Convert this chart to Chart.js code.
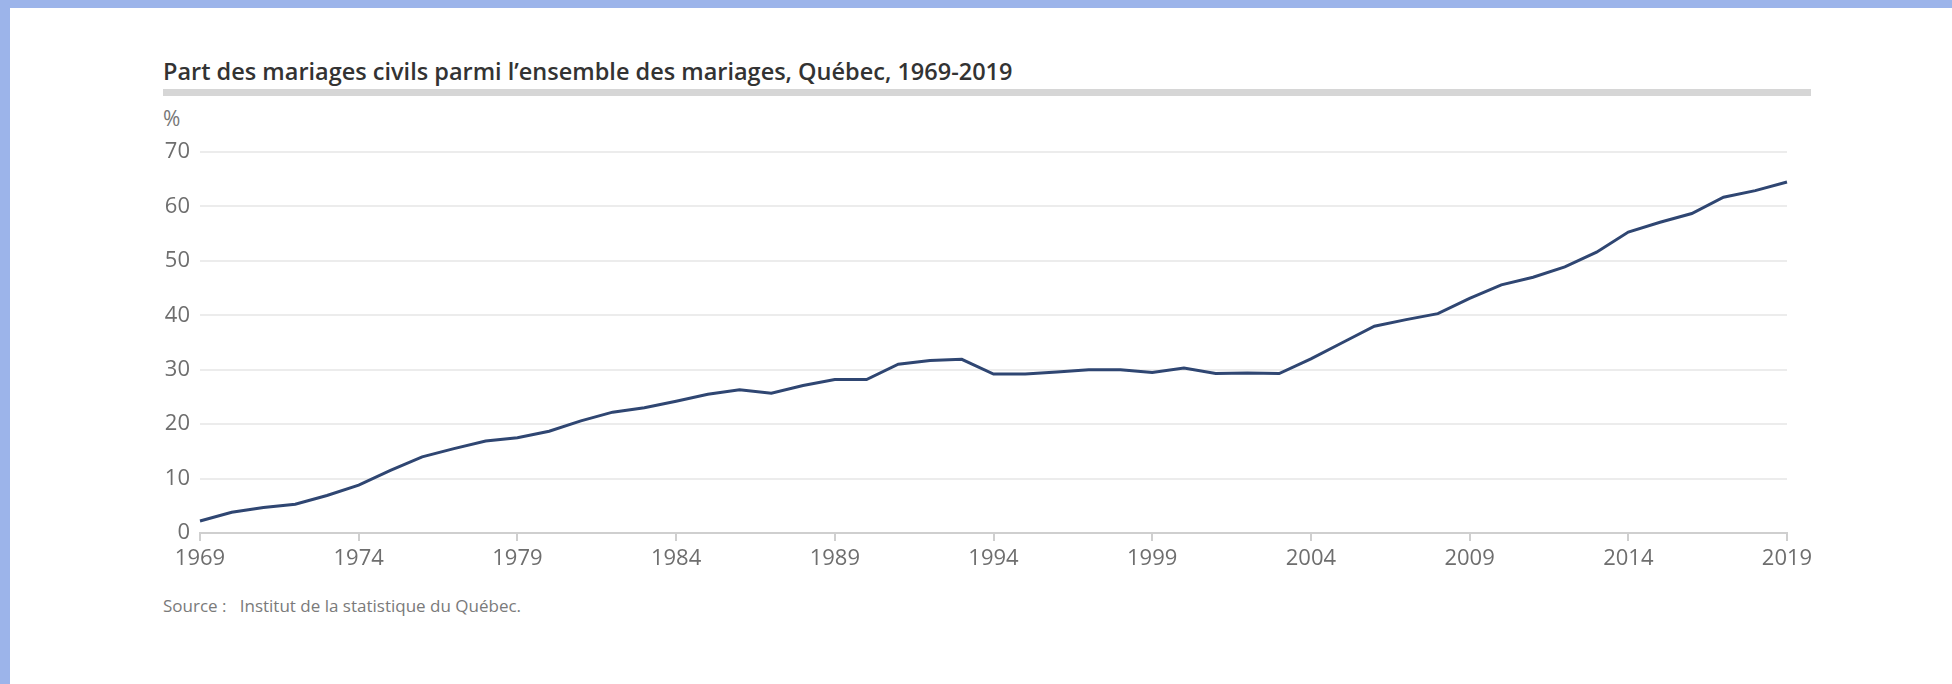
<!DOCTYPE html>
<html lang="fr">
<head>
<meta charset="utf-8">
<title>Part des mariages civils, Québec, 1969-2019</title>
<script src="https://cdn.jsdelivr.net/npm/chart.js@4/dist/chart.umd.min.js"></script>
<style>
  html, body { margin: 0; padding: 0; }
  body {
    width: 1952px; height: 684px; overflow: hidden;
    background: #9cb4ea; position: relative;
    font-family: "Open Sans", "Noto Sans", sans-serif;
  }
  #panel {
    position: absolute; left: 10px; top: 8px; right: 0; bottom: 0;
    background: #fff;
  }
  #title {
    position: absolute; left: 163px; top: 55px;
    font-size: 23.5px; font-weight: 600; color: #333; white-space: nowrap;
  }
  #rule {
    position: absolute; left: 163px; top: 89px; width: 1648px; height: 7px;
    background: #d6d6d6;
  }
  #unit {
    position: absolute; left: 163px; top: 104px;
    font-size: 21px; color: #777;
  }
  #source {
    position: absolute; left: 163px; top: 594px;
    font-size: 17px; color: #7a7a7a; white-space: pre;
  }
  #chart { position: absolute; left: 0; top: 0; }
</style>
</head>
<body>
<div id="panel"></div>
<div id="title">Part des mariages civils parmi l’ensemble des mariages, Québec, 1969-2019</div>
<div id="rule"></div>
<div id="unit">%</div>
<div id="source">Source :   Institut de la statistique du Québec.</div>
<canvas id="chart" width="1952" height="684"></canvas>
<script>
// years on the x axis
const years = [
  1969, 1970, 1971, 1972, 1973, 1974, 1975, 1976, 1977, 1978,
  1979, 1980, 1981, 1982, 1983, 1984, 1985, 1986, 1987, 1988,
  1989, 1990, 1991, 1992, 1993, 1994, 1995, 1996, 1997, 1998,
  1999, 2000, 2001, 2002, 2003, 2004, 2005, 2006, 2007, 2008,
  2009, 2010, 2011, 2012, 2013, 2014, 2015, 2016, 2017, 2018, 2019
];

// share of civil marriages (%)
const civilShare = [
  2.2, 3.8, 4.7, 5.3, 6.9, 8.8, 11.5, 14.0, 15.5, 16.9,
  17.5, 18.7, 20.6, 22.2, 23.0, 24.2, 25.5, 26.3, 25.7, 27.1,
  28.2, 28.2, 31.0, 31.7, 31.9, 29.2, 29.2, 29.6, 30.0, 30.0,
  29.5, 30.3, 29.3, 29.4, 29.3, 32.0, 35.0, 38.0, 39.2, 40.3,
  43.1, 45.6, 47.0, 48.9, 51.6, 55.3, 57.1, 58.7, 61.7, 62.9, 64.5
];

// labelled years, every five
const labelYears = [1969, 1974, 1979, 1984, 1989, 1994, 1999, 2004, 2009, 2014, 2019];

const tickFont = { family: '"Open Sans", "Noto Sans", sans-serif', size: 22 };

new Chart(document.getElementById('chart'), {
  type: 'line',
  data: {
    labels: years,
    datasets: [{
      label: 'Mariages civils',
      data: civilShare,
      borderColor: '#2f4672',
      borderWidth: 3,
      pointRadius: 0,
      tension: 0,
      fill: false
    }]
  },
  options: {
    responsive: false,
    animation: false,
    layout: { padding: { left: 0, right: 165, top: 152, bottom: 106 } },
    plugins: {
      legend: { display: false },
      tooltip: { enabled: false }
    },
    scales: {
      x: {
        type: 'category',
        offset: false,
        grid: {
          drawOnChartArea: false,
          drawTicks: true,
          tickLength: 8,
          color: '#cfcfcf',
          lineWidth: 2
        },
        border: { display: true, color: '#cfcfcf', width: 2 },
        ticks: {
          autoSkip: false,
          maxRotation: 0,
          padding: 5,
          color: '#6e6e6e',
          font: tickFont,
          callback: function (value) {
            const y = this.getLabelForValue(value);
            return labelYears.includes(Number(y)) ? y : null;
          }
        },
        afterFit: (scale) => { scale.height = 45; }
      },
      y: {
        min: 0,
        max: 70,
        ticks: {
          stepSize: 10,
          padding: 10,
          color: '#6e6e6e',
          font: tickFont
        },
        grid: { color: '#ececec', lineWidth: 2, drawTicks: false },
        border: { display: false },
        afterFit: (scale) => { scale.width = 200; }
      }
    }
  }
});
</script>
</body>
</html>
